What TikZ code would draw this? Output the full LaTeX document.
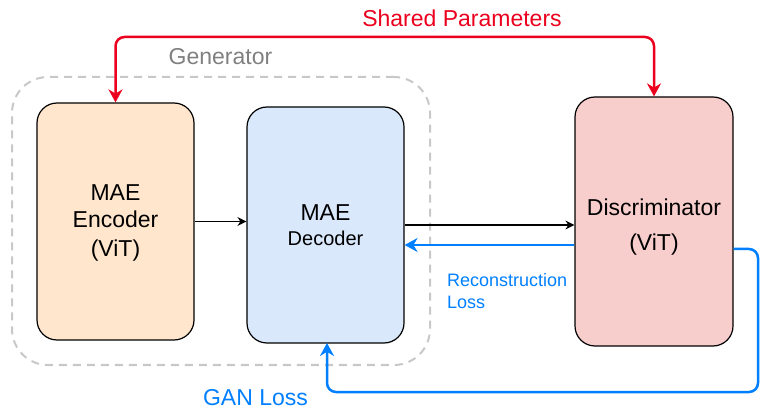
\documentclass[tikz,border=0pt]{standalone}
\usepackage{fontspec}
\setmainfont{Liberation Sans}
\usetikzlibrary{arrows.meta,calc}
\definecolor{encfill}{HTML}{FFE6CC}
\definecolor{decfill}{HTML}{DAE8FC}
\definecolor{disfill}{HTML}{F8CECC}
\definecolor{myred}{RGB}{235,0,30}
\definecolor{myblue}{RGB}{0,127,255}
\definecolor{gentext}{RGB}{128,128,128}
\definecolor{gendash}{RGB}{200,200,200}
\tikzset{
  blockbox/.style={draw=black, line width=1.2pt, rounded corners=20pt, inner sep=0pt},
  genbox/.style={draw=gendash, line width=2pt, dash pattern=on 8pt off 6pt, rounded corners=36pt, inner sep=0pt},
  blackarrow/.style={draw=black, line width=1.2pt, -{Stealth[length=9pt,width=9pt]}},
  redline/.style={draw=myred, line width=2.5pt, rounded corners=9pt, {Stealth[length=13pt,width=14pt]}-{Stealth[length=13pt,width=14pt]}},
  blueline/.style={draw=myblue, line width=2.5pt, rounded corners=9pt, -{Stealth[length=13pt,width=14pt]}},
  txt/.style={anchor=base, inner sep=0pt, font=\fontsize{23}{28}\selectfont},
}
\begin{document}
\begin{tikzpicture}[x=1pt,y=-1pt]
\useasboundingbox (0,0) rectangle (760,411);
% generator dashed region
\node[genbox, minimum width=418pt, minimum height=288pt] (gen) at (221,221) {};
\node[txt, text=gentext] (genlabel) at (220.5,65) {Generator};
% blocks
\node[blockbox, fill=encfill, minimum width=157pt, minimum height=237pt] (enc) at (115.5,221.5) {};
\node[blockbox, fill=decfill, minimum width=157pt, minimum height=236pt] (dec) at (325.5,225) {};
\node[blockbox, fill=disfill, minimum width=158pt, minimum height=249pt] (dis) at (654,221.5) {};
% block texts
\node[txt] (enc1) at (115.5,201) {MAE};
\node[txt] (enc2) at (115.5,228) {Encoder};
\node[txt] (enc3) at (115.5,257) {(ViT)};
\node[txt] (dec1) at (325.5,221) {MAE};
\node[txt, font=\fontsize{20}{24}\selectfont] (dec2) at (325.5,246) {Decoder};
\node[txt] (dis1) at (654,216) {Discriminator};
\node[txt] (dis2) at (654,251) {(ViT)};
% coordinates
\coordinate (top) at (0,37);
\coordinate (recy) at (0,245);
\coordinate (gany) at (0,249);
\coordinate (ganr) at (758,392);
% black arrows
\draw[blackarrow] (enc.east) -- (enc.east -| dec.west);
\draw[blackarrow] (dec.east) -- (dec.east -| dis.west);
% reconstruction loss
\draw[blueline] (dis.west |- recy) -- (dec.east |- recy);
\node[txt, anchor=base west, text=myblue, font=\fontsize{18}{22}\selectfont] (rec1) at (447,287) {Reconstruction};
\node[txt, anchor=base west, text=myblue, font=\fontsize{18}{22}\selectfont] (rec2) at (447,309) {Loss};
% GAN loss
\draw[blueline] (dis.east |- gany) -- (ganr |- gany) -- (ganr) -- (327,392) -- (327,343);
\node[txt, text=myblue] (ganlabel) at (255.5,405) {GAN Loss};
% shared parameters
\draw[redline] (enc.north) -- (enc.north |- top) -| (dis.north);
\node[txt, text=myred] (sharedlabel) at (462,27) {Shared Parameters};
\end{tikzpicture}
\end{document}
